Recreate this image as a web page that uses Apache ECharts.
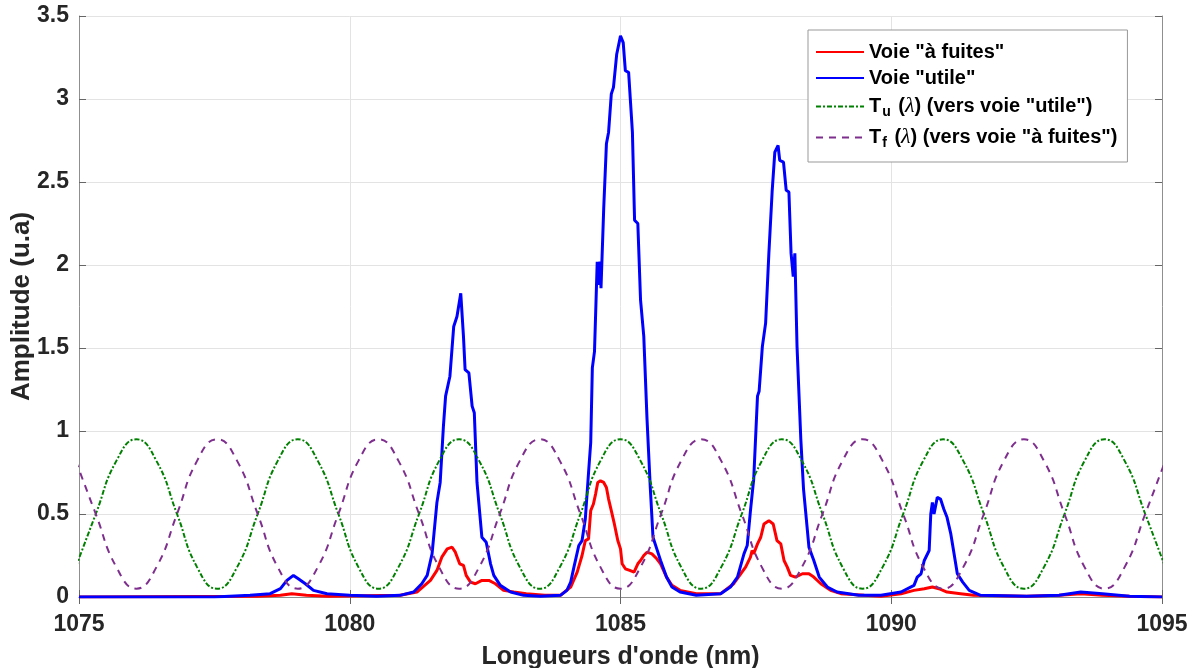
<!DOCTYPE html>
<html>
<head>
<meta charset="utf-8">
<script src="https://cdn.jsdelivr.net/npm/echarts@6/dist/echarts.min.js"></script>
<style>html,body{margin:0;padding:0;background:#fff;}#chart{width:1195px;height:668px;}</style>
</head>
<body>
<div id="chart"></div>
<script>
// ---- Data ----
const seriesNames = ['Voie "à fuites"', 'Voie "utile"', 'Tu', 'Tf'];

// Voie "utile" (blue)
const utileWl = [1075,1077.5,1078.16,1078.53,1078.72,1078.84,1078.96,1079.05,1079.18,1079.33,1079.58,1080.0,1080.5,1080.93,1081.18,1081.33,1081.43,1081.52,1081.61,1081.67,1081.73,1081.77,1081.85,1081.92,1081.98,1082.05,1082.10,1082.13,1082.20,1082.26,1082.30,1082.35,1082.44,1082.52,1082.60,1082.66,1082.78,1082.97,1083.21,1083.52,1083.89,1084.01,1084.08,1084.14,1084.23,1084.29,1084.35,1084.41,1084.45,1084.48,1084.52,1084.57,1084.60,1084.62,1084.64,1084.69,1084.74,1084.78,1084.83,1084.87,1084.93,1085.00,1085.05,1085.09,1085.15,1085.22,1085.26,1085.32,1085.37,1085.43,1085.49,1085.55,1085.60,1085.67,1085.74,1085.85,1085.95,1086.1,1086.4,1086.85,1087.03,1087.16,1087.28,1087.34,1087.40,1087.46,1087.53,1087.56,1087.62,1087.68,1087.74,1087.80,1087.85,1087.91,1087.94,1088.01,1088.06,1088.11,1088.15,1088.19,1088.22,1088.26,1088.33,1088.38,1088.44,1088.48,1088.57,1088.67,1088.82,1089.0,1089.4,1089.81,1090.18,1090.42,1090.48,1090.55,1090.61,1090.70,1090.73,1090.76,1090.79,1090.85,1090.91,1090.97,1091.03,1091.10,1091.16,1091.22,1091.32,1091.44,1091.65,1092.5,1093.1,1093.5,1093.9,1094.4,1095];
const utileAmp = [0,0,0.01,0.02,0.05,0.10,0.13,0.11,0.08,0.04,0.02,0.01,0.005,0.01,0.03,0.08,0.13,0.26,0.57,0.69,1.03,1.21,1.33,1.63,1.69,1.83,1.57,1.37,1.35,1.15,1.11,0.69,0.36,0.33,0.20,0.13,0.07,0.03,0.01,0.005,0.01,0.04,0.09,0.18,0.31,0.34,0.47,0.75,0.93,1.38,1.48,2.02,1.88,2.02,1.86,2.34,2.73,2.80,3.03,3.07,3.27,3.38,3.34,3.17,3.16,2.80,2.27,2.25,1.79,1.57,1.07,0.66,0.36,0.29,0.22,0.12,0.06,0.03,0.01,0.02,0.06,0.12,0.26,0.31,0.52,0.71,1.21,1.24,1.51,1.65,2.07,2.44,2.68,2.72,2.63,2.62,2.45,2.44,2.07,1.93,2.07,1.51,0.95,0.65,0.44,0.30,0.22,0.12,0.06,0.03,0.01,0.01,0.03,0.07,0.12,0.14,0.22,0.28,0.50,0.57,0.50,0.60,0.59,0.53,0.48,0.38,0.26,0.14,0.09,0.04,0.01,0.005,0.01,0.03,0.02,0.005,0];

// Voie "à fuites" (red)
const fuitesWl = [1075,1078.3,1078.72,1078.93,1079.2,1079.6,1080.93,1081.24,1081.49,1081.61,1081.70,1081.80,1081.89,1081.95,1082.03,1082.10,1082.15,1082.23,1082.32,1082.44,1082.57,1082.69,1082.84,1083.03,1083.26,1083.6,1083.89,1084.08,1084.20,1084.29,1084.35,1084.41,1084.45,1084.50,1084.54,1084.58,1084.63,1084.69,1084.74,1084.78,1084.83,1084.88,1084.95,1085.00,1085.03,1085.09,1085.17,1085.25,1085.32,1085.37,1085.43,1085.49,1085.58,1085.67,1085.74,1085.85,1085.95,1086.1,1086.4,1086.85,1087.09,1087.22,1087.31,1087.40,1087.43,1087.46,1087.53,1087.59,1087.65,1087.74,1087.82,1087.89,1087.96,1088.02,1088.08,1088.14,1088.23,1088.36,1088.48,1088.57,1088.70,1088.88,1089.07,1089.5,1089.81,1090.18,1090.42,1090.61,1090.76,1090.88,1091.03,1091.28,1091.52,1092.5,1093.1,1093.5,1093.9,1094.4,1095];
const fuitesAmp = [0,0.005,0.01,0.02,0.01,0.005,0.01,0.03,0.10,0.16,0.24,0.29,0.30,0.27,0.20,0.19,0.13,0.09,0.08,0.10,0.10,0.08,0.04,0.03,0.02,0.01,0.01,0.06,0.15,0.25,0.34,0.35,0.52,0.56,0.62,0.69,0.70,0.69,0.66,0.59,0.52,0.45,0.34,0.29,0.20,0.17,0.16,0.15,0.20,0.22,0.25,0.27,0.26,0.23,0.20,0.12,0.07,0.04,0.02,0.02,0.08,0.14,0.18,0.24,0.28,0.26,0.32,0.36,0.44,0.46,0.44,0.34,0.32,0.22,0.18,0.13,0.12,0.14,0.14,0.12,0.08,0.04,0.02,0.01,0.005,0.02,0.04,0.05,0.06,0.05,0.03,0.02,0.01,0.005,0.01,0.02,0.01,0.005,0];

// Transfer functions Tu (green) and Tf (purple), sampled every eighth of a period
const transWl = [1074.94,1075.31,1075.69,1076.06,1076.43,1076.81,1077.18,1077.55,1077.92,1078.30,1078.67,1079.04,1079.41,1079.79,1080.16,1080.53,1080.90,1081.28,1081.65,1082.02,1082.39,1082.77,1083.14,1083.51,1083.88,1084.26,1084.63,1085.00,1085.37,1085.75,1086.12,1086.49,1086.86,1087.24,1087.61,1087.98,1088.35,1088.73,1089.10,1089.47,1089.84,1090.22,1090.59,1090.96,1091.33,1091.71,1092.08,1092.45,1092.82,1093.20,1093.57,1093.94,1094.31,1094.69,1095.06];
const tuAmp = [0.18,0.5,0.82,0.95,0.82,0.5,0.18,0.05,0.18,0.5,0.82,0.95,0.82,0.5,0.18,0.05,0.18,0.5,0.82,0.95,0.82,0.5,0.18,0.05,0.18,0.5,0.82,0.95,0.82,0.5,0.18,0.05,0.18,0.5,0.82,0.95,0.82,0.5,0.18,0.05,0.18,0.5,0.82,0.95,0.82,0.5,0.18,0.05,0.18,0.5,0.82,0.95,0.82,0.5,0.18];
const tfAmp = [0.82,0.5,0.18,0.05,0.18,0.5,0.82,0.95,0.82,0.5,0.18,0.05,0.18,0.5,0.82,0.95,0.82,0.5,0.18,0.05,0.18,0.5,0.82,0.95,0.82,0.5,0.18,0.05,0.18,0.5,0.82,0.95,0.82,0.5,0.18,0.05,0.18,0.5,0.82,0.95,0.82,0.5,0.18,0.05,0.18,0.5,0.82,0.95,0.82,0.5,0.18,0.05,0.18,0.5,0.82];

const xTicks = {min: 1075, max: 1095, interval: 5};
const yTicks = {min: 0, max: 3.5, interval: 0.5};

// ---- Chart ----
const zip = (a, b) => a.map((v, i) => [v, b[i]]);
const FONT = '"Liberation Sans", Arial, Helvetica, sans-serif';
const AXIS_GRAY = '#8f8f8f';

const chart = echarts.init(document.getElementById('chart'), null, {renderer: 'canvas'});

const mainTxt = {fontFamily: FONT, fontWeight: 'bold', fontSize: 20, color: '#000', lineHeight: 23, verticalAlign: 'middle'};
const legendFormatter = name => {
  if (name === 'Tu') return '{m|T}{s|u}{m| (}{l|λ}{m|) (vers voie "utile")}';
  if (name === 'Tf') return '{m|T}{s|f}{m| (}{l|λ}{m|) (vers voie "à fuites")}';
  return '{m|' + name + '}';
};

chart.setOption({
  animation: false,
  backgroundColor: '#fff',
  grid: {left: 79, right: 33, top: 16, bottom: 71, show: false, containLabel: false, outerBoundsMode: 'none'},
  legend: {
    data: seriesNames,
    orient: 'vertical',
    left: 808, top: 30,
    padding: [12, 10, 12, 7],
    itemWidth: 48, itemHeight: 14, itemGap: 6, itemTextGap: 4,
    backgroundColor: '#fff',
    borderColor: '#999', borderWidth: 1, borderRadius: 0,
    itemStyle: {opacity: 0},
    formatter: legendFormatter,
    textStyle: {
      fontFamily: FONT, fontWeight: 'bold', fontSize: 20, color: '#000',
      rich: {
        m: mainTxt,
        s: {fontFamily: FONT, fontWeight: 'bold', fontSize: 14, color: '#000', lineHeight: 12, padding: [11, 2, 0, 1], verticalAlign: 'middle'},
        l: {fontFamily: '"Liberation Serif", "DejaVu Serif", serif', fontStyle: 'italic', fontWeight: 'normal', fontSize: 22, color: '#000', lineHeight: 23, verticalAlign: 'middle'}
      }
    }
  },
  xAxis: [{
    type: 'value', min: xTicks.min, max: xTicks.max, interval: xTicks.interval,
    name: "Longueurs d'onde (nm)", nameLocation: 'middle', nameGap: 48, nameMoveOverlap: false,
    nameTextStyle: {fontFamily: FONT, fontWeight: 'bold', fontSize: 25, color: '#262626'},
    axisLine: {show: true, onZero: false, lineStyle: {color: AXIS_GRAY, width: 1}},
    axisTick: {show: true, inside: true, length: 7, lineStyle: {color: '#666'}},
    axisLabel: {fontFamily: FONT, fontWeight: 'bold', fontSize: 23, color: '#262626', margin: 16,
                formatter: v => String(v)},
    splitLine: {show: true, lineStyle: {color: '#e3e3e3', width: 1}}
  }, {
    type: 'value', position: 'top', min: xTicks.min, max: xTicks.max, interval: xTicks.interval,
    axisLine: {show: true, lineStyle: {color: AXIS_GRAY, width: 1}},
    axisTick: {show: true, inside: true, length: 7, lineStyle: {color: '#666'}},
    axisLabel: {show: false}, splitLine: {show: false}
  }],
  yAxis: [{
    type: 'value', min: yTicks.min, max: yTicks.max, interval: yTicks.interval,
    name: 'Amplitude (u.a)', nameLocation: 'middle', nameGap: 44, nameMoveOverlap: false,
    nameTextStyle: {fontFamily: FONT, fontWeight: 'bold', fontSize: 26, color: '#262626'},
    axisLine: {show: true, lineStyle: {color: AXIS_GRAY, width: 1}},
    axisTick: {show: true, inside: true, length: 7, lineStyle: {color: '#666'}},
    axisLabel: {fontFamily: FONT, fontWeight: 'bold', fontSize: 23, color: '#262626', margin: 10},
    splitLine: {show: true, lineStyle: {color: '#e3e3e3', width: 1}}
  }, {
    type: 'value', position: 'right', min: yTicks.min, max: yTicks.max, interval: yTicks.interval,
    axisLine: {show: true, lineStyle: {color: AXIS_GRAY, width: 1}},
    axisTick: {show: true, inside: true, length: 7, lineStyle: {color: '#666'}},
    axisLabel: {show: false}, splitLine: {show: false}
  }],
  series: [
    {name: seriesNames[0], type: 'line', data: zip(fuitesWl, fuitesAmp), showSymbol: false, symbol: 'none',
     color: '#ff0000', lineStyle: {color: '#ff0000', width: 3}, clip: true},
    {name: seriesNames[1], type: 'line', data: zip(utileWl, utileAmp), showSymbol: false, symbol: 'none',
     color: '#0000ff', lineStyle: {color: '#0000ff', width: 3}, clip: true},
    {name: seriesNames[2], type: 'line', data: zip(transWl, tuAmp), showSymbol: false, symbol: 'none', smooth: 0.5,
     color: '#008000', lineStyle: {color: '#008000', width: 2, type: [5, 2, 2, 2]}, clip: true},
    {name: seriesNames[3], type: 'line', data: zip(transWl, tfAmp), showSymbol: false, symbol: 'none', smooth: 0.5,
     color: '#7e2f8e', lineStyle: {color: '#7e2f8e', width: 2, type: [7, 6]}, clip: true}
  ]
});
</script>
</body>
</html>
